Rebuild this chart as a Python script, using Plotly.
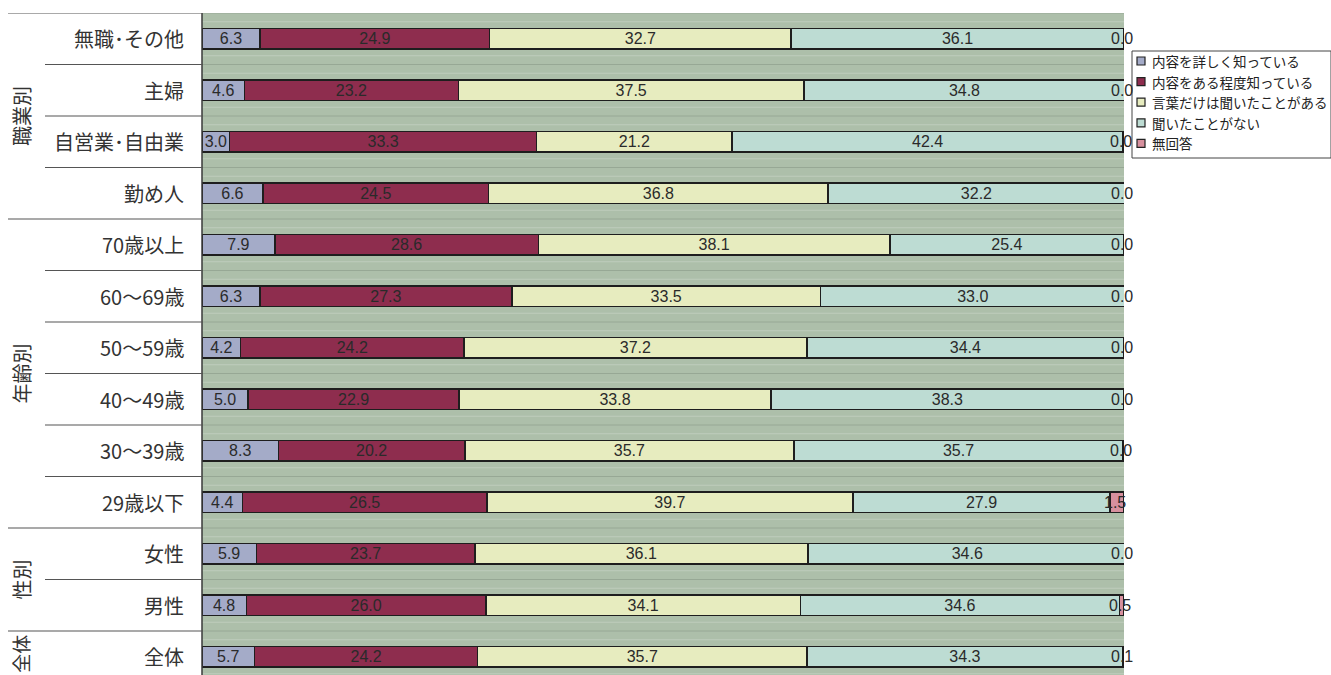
import plotly.graph_objects as go

# Survey awareness by respondent attribute (percent), listed top to bottom
categories = ["無職･その他", "主婦", "自営業･自由業", "勤め人",
              "70歳以上", "60～69歳", "50～59歳", "40～49歳", "30～39歳", "29歳以下",
              "女性", "男性", "全体"]
know_well = [6.3, 4.6, 3.0, 6.6, 7.9, 6.3, 4.2, 5.0, 8.3, 4.4, 5.9, 4.8, 5.7]
know_some = [24.9, 23.2, 33.3, 24.5, 28.6, 27.3, 24.2, 22.9, 20.2, 26.5, 23.7, 26.0, 24.2]
heard_only = [32.7, 37.5, 21.2, 36.8, 38.1, 33.5, 37.2, 33.8, 35.7, 39.7, 36.1, 34.1, 35.7]
never_heard = [36.1, 34.8, 42.4, 32.2, 25.4, 33.0, 34.4, 38.3, 35.7, 27.9, 34.6, 34.6, 34.3]
no_answer = [0.0, 0.0, 0.0, 0.0, 0.0, 0.0, 0.0, 0.0, 0.0, 1.5, 0.0, 0.5, 0.1]

series_names = ["内容を詳しく知っている", "内容をある程度知っている",
                "言葉だけは聞いたことがある", "聞いたことがない", "無回答"]
series_values = [know_well, know_some, heard_only, never_heard, no_answer]
series_colors = ["#a4abc8", "#8e2d4e", "#e7ecbf", "#bddcd3", "#d7909e"]

groups = [("職業別", 0, 3), ("年齢別", 4, 9), ("性別", 10, 11), ("全体", 12, 12)]

# Page geometry (pixels)
W, H = 1331, 675
L, R, T, B = 202, 1124, 13, 0
n = len(categories)
row_px = 51.5
plot_h = H - T - B
span = plot_h / row_px

# categories bottom-to-top so the first listed appears at the top
order = categories[::-1]
ypos = {c: n - 1 - i for i, c in enumerate(categories)}

NUM_FONT = "Liberation Sans Narrow, Arial Narrow, sans-serif"
JP_FONT = "Noto Sans CJK JP"


def px_x(px):
    return (px - L) / (R - L)


def px_y(py):
    return (H - B - py) / plot_h


fig = go.Figure()
for name, vals, col in zip(series_names, series_values, series_colors):
    is_na = name == "無回答"
    fig.add_trace(go.Bar(
        y=categories, x=vals, name=name, orientation="h",
        marker=dict(color=col, line=dict(color="#1e1e1e", width=1.5)),
        width=0.4,
        text=None if is_na else [f"{v:.1f}" for v in vals],
        textposition="none" if is_na else "inside",
        insidetextanchor="middle",
        textangle=0,
        textfont=dict(family=NUM_FONT, size=16, color="#2a2a2a"),
        showlegend=False,
        hoverinfo="x+y+name",
    ))

shapes = []
annotations = []

# background stripes
for i in range(n + 1):
    yb = i - 0.5
    shapes.append(dict(type="line", xref="paper", yref="y", x0=0, x1=1, y0=yb, y1=yb,
                       line=dict(color="#97a895", width=1), layer="below"))
    for d in (-0.17, 0.17):
        shapes.append(dict(type="line", xref="paper", yref="y", x0=0, x1=1,
                           y0=yb + d, y1=yb + d,
                           line=dict(color="#bfcdbc", width=1), layer="below"))

# left border of the plotting area
shapes.append(dict(type="line", xref="paper", yref="paper", x0=0, x1=0, y0=0, y1=1,
                   line=dict(color="#3a3a3a", width=1.5)))

# label-column divider lines
group_starts = {g[1] for g in groups}
for i in range(n):
    ytop = ypos[categories[i]] + 0.5
    x_start = 8 if i in group_starts else 45
    shapes.append(dict(type="line", xref="paper", yref="y",
                       x0=px_x(x_start), x1=0, y0=ytop, y1=ytop,
                       line=dict(color="#555555", width=1.2)))

# category labels
for c in categories:
    annotations.append(dict(xref="paper", yref="y", x=px_x(186), y=ypos[c], text=c,
                            showarrow=False, xanchor="right", yanchor="middle",
                            font=dict(family=JP_FONT, size=20, color="#333333")))

# group labels (vertical); the last group sits at the page bottom, so nudge it up
for g, a, b in groups:
    yc = (ypos[categories[a]] + ypos[categories[b]]) / 2
    last = a == b
    annotations.append(dict(xref="paper", yref="y", x=px_x(21), y=yc, text=g,
                            showarrow=False, textangle=-90, xanchor="center", yanchor="middle",
                            yshift=3 if last else 0,
                            font=dict(family=JP_FONT, size=19 if last else 20, color="#333333")))

# no-answer values at the end of each bar
for c, a, b2, c3, d, e in zip(categories, know_well, know_some, heard_only, never_heard, no_answer):
    start = a + b2 + c3 + d
    annotations.append(dict(xref="x", yref="y", x=min(start + e / 2, 100), y=ypos[c],
                            text=f"{e:.1f}", showarrow=False, xanchor="center", xshift=-2,
                            font=dict(family=NUM_FONT, size=16, color="#2a2a2a")))

# legend box
lx0, lx1, ly0, ly1 = 1132, 1331, 51, 158
shapes.append(dict(type="rect", xref="paper", yref="paper",
                   x0=px_x(lx0), x1=px_x(lx1), y0=px_y(ly1), y1=px_y(ly0),
                   line=dict(color="#444444", width=1), fillcolor="white"))
for k, (name, col) in enumerate(zip(series_names, series_colors)):
    cy = 61 + k * 20.6
    shapes.append(dict(type="rect", xref="paper", yref="paper",
                       x0=px_x(1137), x1=px_x(1145), y0=px_y(cy + 4), y1=px_y(cy - 4),
                       line=dict(color="#222222", width=1.2), fillcolor=col))
    annotations.append(dict(xref="paper", yref="paper", x=px_x(1150), y=px_y(cy),
                            text=name, showarrow=False, xanchor="left", yanchor="middle",
                            font=dict(family=JP_FONT, size=13.5, color="#222222")))

fig.update_layout(
    width=W, height=H,
    margin=dict(l=L, r=W - R, t=T, b=B, pad=0),
    barmode="stack",
    plot_bgcolor="#adbfaa",
    paper_bgcolor="white",
    showlegend=False,
    uniformtext=dict(mode="show", minsize=16),
    shapes=shapes,
    annotations=annotations,
    xaxis=dict(range=[0, 100], showgrid=False, showticklabels=False, zeroline=False,
               ticks="", fixedrange=True),
    yaxis=dict(type="category", categoryorder="array", categoryarray=order,
               range=[n - 0.5 - span, n - 0.5],
               showgrid=False, showticklabels=False, zeroline=False, ticks=""),
)

fig.write_html("out.html")
